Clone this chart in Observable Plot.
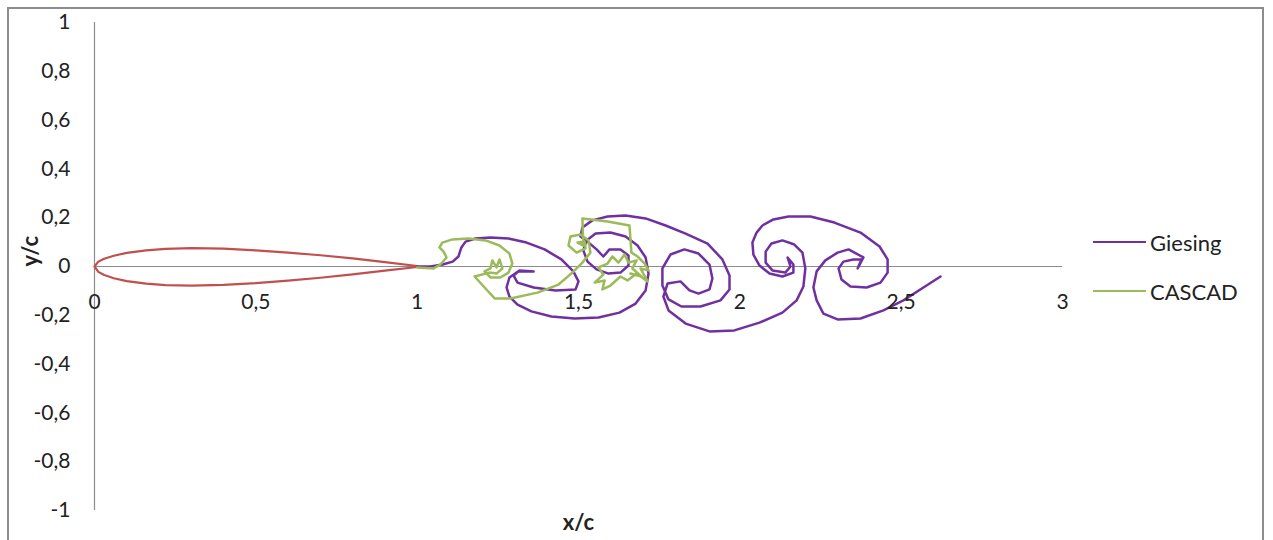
<!DOCTYPE html>
<html>
<head>
<meta charset="utf-8">
<script src="https://cdn.jsdelivr.net/npm/d3@7"></script>
<script src="https://cdn.jsdelivr.net/npm/@observablehq/plot@0.6"></script>
<style>
  html, body { margin: 0; padding: 0; background: #fff; }
  body { width: 1273px; height: 540px; overflow: hidden; position: relative; font-family: Lato, "Open Sans", sans-serif; }
  #frame { position: absolute; left: 7px; top: 7px; width: 1257px; height: 560px; border: 2px solid #8d8d8d; box-sizing: border-box; }
  #chart { position: absolute; left: 0; top: 0; }
  .legend-item { position: absolute; left: 1093px; display: flex; align-items: center; font-size: 22px; color: #222; }
  .legend-item .swatch { width: 53px; height: 2.5px; margin-right: 4px; }
</style>
</head>
<body>
<div id="frame"></div>
<div id="chart"></div>
<div id="legend"></div>
<script>
// NACA-type airfoil section (chord-normalised)
const airfoilX     = [0, 0.012, 0.03, 0.06, 0.1, 0.16, 0.22, 0.3, 0.4, 0.5, 0.6, 0.7, 0.8, 0.9, 1.0];
const airfoilUpper = [0, 0.020, 0.032, 0.044, 0.056, 0.066, 0.072, 0.075, 0.073, 0.066, 0.057, 0.046, 0.033, 0.018, 0.002];
const airfoilLower = [0, -0.022, -0.035, -0.048, -0.060, -0.070, -0.076, -0.078, -0.075, -0.068, -0.058, -0.046, -0.032, -0.017, -0.002];

// Wake vortex sheet, Giesing method
const giesingX = [1.000, 1.041, 1.079, 1.110, 1.128, 1.137, 1.150, 1.181, 1.227, 1.283, 1.339, 1.395, 1.447, 1.484, 1.500,
  1.491, 1.429, 1.361, 1.311, 1.299, 1.314, 1.361, 1.317, 1.286, 1.277, 1.286, 1.311, 1.354, 1.416, 1.488,
  1.562, 1.627, 1.677, 1.708, 1.717, 1.708, 1.683, 1.646, 1.599, 1.553, 1.525, 1.515, 1.528, 1.556, 1.593,
  1.630, 1.655, 1.655, 1.630, 1.596, 1.577, 1.556, 1.528, 1.506, 1.512, 1.543, 1.590, 1.646, 1.708, 1.770,
  1.832, 1.900, 1.946, 1.968, 1.968, 1.940, 1.878, 1.819, 1.779, 1.760, 1.760, 1.785, 1.828, 1.872, 1.906,
  1.915, 1.906, 1.872, 1.844, 1.816, 1.776, 1.763, 1.779, 1.832, 1.906, 1.983, 2.061, 2.132, 2.176, 2.197,
  2.203, 2.194, 2.169, 2.132, 2.098, 2.080, 2.080, 2.101, 2.141, 2.157, 2.148, 2.166, 2.166, 2.132, 2.092,
  2.061, 2.042, 2.039, 2.052, 2.070, 2.104, 2.151, 2.219, 2.293, 2.374, 2.433, 2.458, 2.458, 2.436, 2.393,
  2.343, 2.315, 2.306, 2.321, 2.352, 2.377, 2.365, 2.383, 2.337, 2.303, 2.265, 2.238, 2.228, 2.238, 2.259,
  2.303, 2.374, 2.445, 2.507, 2.569, 2.622];
const giesingY = [0.000, 0.000, 0.008, 0.020, 0.041, 0.078, 0.102, 0.115, 0.119, 0.115, 0.098, 0.070, 0.029, -0.020, -0.061,
  -0.094, -0.098, -0.086, -0.066, -0.037, -0.020, -0.020, -0.016, -0.045, -0.086, -0.123, -0.156, -0.184, -0.205, -0.213,
  -0.209, -0.189, -0.152, -0.098, -0.029, 0.037, 0.086, 0.123, 0.139, 0.135, 0.107, 0.066, 0.020, -0.012, -0.029,
  -0.025, 0.004, 0.045, 0.070, 0.070, 0.041, 0.070, 0.102, 0.123, 0.160, 0.189, 0.205, 0.209, 0.197, 0.168,
  0.135, 0.094, 0.029, -0.037, -0.094, -0.139, -0.164, -0.164, -0.135, -0.078, -0.008, 0.049, 0.070, 0.053, 0.008,
  -0.049, -0.094, -0.111, -0.098, -0.061, -0.070, -0.123, -0.180, -0.234, -0.266, -0.262, -0.230, -0.189, -0.139, -0.082,
  -0.008, 0.057, 0.090, 0.107, 0.094, 0.061, 0.016, -0.016, -0.025, 0.000, 0.037, 0.008, -0.025, -0.041, -0.029,
  0.004, 0.049, 0.098, 0.139, 0.168, 0.193, 0.205, 0.205, 0.180, 0.139, 0.082, 0.029, -0.025, -0.066, -0.086,
  -0.082, -0.053, -0.008, 0.020, 0.029, 0.029, -0.008, 0.037, 0.070, 0.057, 0.025, -0.020, -0.086, -0.139, -0.193,
  -0.217, -0.213, -0.180, -0.139, -0.086, -0.041];

// Wake vortex sheet, CASCAD code
const cascadX = [1.000, 1.051, 1.072, 1.091, 1.082, 1.069, 1.078, 1.109, 1.159, 1.212, 1.255, 1.286, 1.295, 1.283, 1.258,
  1.227, 1.209, 1.227, 1.233, 1.246, 1.255, 1.264, 1.246, 1.224, 1.178, 1.209, 1.240, 1.289, 1.373, 1.438,
  1.481, 1.512, 1.537, 1.531, 1.506, 1.475, 1.469, 1.494, 1.522, 1.519, 1.497, 1.515, 1.512, 1.590, 1.658,
  1.664, 1.683, 1.705, 1.717, 1.692, 1.714, 1.680, 1.652, 1.630, 1.599, 1.574, 1.581, 1.550, 1.577, 1.562,
  1.590, 1.605, 1.624, 1.643, 1.655, 1.680, 1.667, 1.695, 1.661];
const cascadY = [-0.004, -0.008, 0.008, 0.037, 0.061, 0.078, 0.098, 0.111, 0.115, 0.107, 0.086, 0.053, 0.012, -0.025, -0.045,
  -0.045, -0.020, -0.008, 0.025, -0.004, 0.029, -0.008, -0.029, -0.025, -0.041, -0.086, -0.131, -0.131, -0.107, -0.074,
  -0.025, 0.016, 0.057, 0.107, 0.131, 0.123, 0.086, 0.057, 0.074, 0.102, 0.098, 0.086, 0.197, 0.184, 0.168,
  0.057, 0.041, 0.012, -0.016, -0.008, -0.061, -0.029, -0.057, -0.041, -0.078, -0.094, -0.057, -0.066, -0.033, -0.004,
  0.012, 0.041, 0.016, 0.049, 0.016, 0.025, -0.008, -0.041, -0.029];

const xTicks = [0, 0.5, 1, 1.5, 2, 2.5, 3];
const yTicks = [-1, -0.8, -0.6, -0.4, -0.2, 0, 0.2, 0.4, 0.6, 0.8, 1];
const seriesNames = ["Giesing", "CASCAD"];
const seriesColors = ["#7030a0", "#9bbb59"];
const airfoilColor = "#c0504d";

const decimalComma = d => String(d).replace(".", ",");

// closed airfoil contour: upper surface TE -> LE, then lower surface LE -> TE
const airfoil = [
  ...airfoilX.map((x, i) => ({x, y: airfoilUpper[i]})).reverse(),
  ...airfoilX.map((x, i) => ({x, y: airfoilLower[i]})).slice(1)
];
const giesing = giesingX.map((x, i) => ({x, y: giesingY[i]}));
const cascad = cascadX.map((x, i) => ({x, y: cascadY[i]}));

const chart = Plot.plot({
  width: 1273,
  height: 540,
  marginLeft: 94,
  marginRight: 211,
  marginTop: 22,
  marginBottom: 30,
  x: {domain: [0, 3], axis: null},
  y: {domain: [-1, 1], axis: null},
  style: {fontFamily: "Lato, 'Open Sans', sans-serif", fontSize: "21px", color: "#222", background: "transparent", overflow: "visible"},
  marks: [
    Plot.ruleX([0], {y1: -1, y2: 1, stroke: "#8c8c8c", strokeWidth: 1.2}),
    Plot.ruleY([0], {x1: 0, x2: 3, stroke: "#8c8c8c", strokeWidth: 1.2}),
    Plot.line(airfoil, {x: "x", y: "y", stroke: airfoilColor, strokeWidth: 2.2, strokeLinejoin: "round"}),
    Plot.line(giesing, {x: "x", y: "y", stroke: seriesColors[0], strokeWidth: 2.5, strokeLinejoin: "round"}),
    Plot.line(cascad, {x: "x", y: "y", stroke: seriesColors[1], strokeWidth: 2.5, strokeLinejoin: "round"}),
    Plot.axisY(yTicks, {tickSize: 0, tickPadding: 24, tickFormat: decimalComma, label: null, fontSize: 21}),
    Plot.text(xTicks, {x: d => d, y: 0, dy: 36, text: decimalComma, fontSize: 21, fill: "#222"}),
    Plot.text(["y/c"], {frameAnchor: "left", dx: -64, rotate: -90, fontWeight: "bold", fontSize: 22, fill: "#222"}),
    Plot.text(["x/c"], {frameAnchor: "bottom", dy: 19, fontWeight: "bold", fontSize: 22, fill: "#222"})
  ]
});
document.getElementById("chart").appendChild(chart);

// legend on the right of the plot area
const legend = document.getElementById("legend");
const legendTops = [242, 291];
seriesNames.forEach((name, i) => {
  const item = document.createElement("div");
  item.className = "legend-item";
  item.style.top = (legendTops[i] - 15) + "px";
  item.style.height = "30px";
  const sw = document.createElement("span");
  sw.className = "swatch";
  sw.style.background = seriesColors[i];
  const label = document.createElement("span");
  label.textContent = name;
  item.appendChild(sw);
  item.appendChild(label);
  legend.appendChild(item);
});
</script>
</body>
</html>
